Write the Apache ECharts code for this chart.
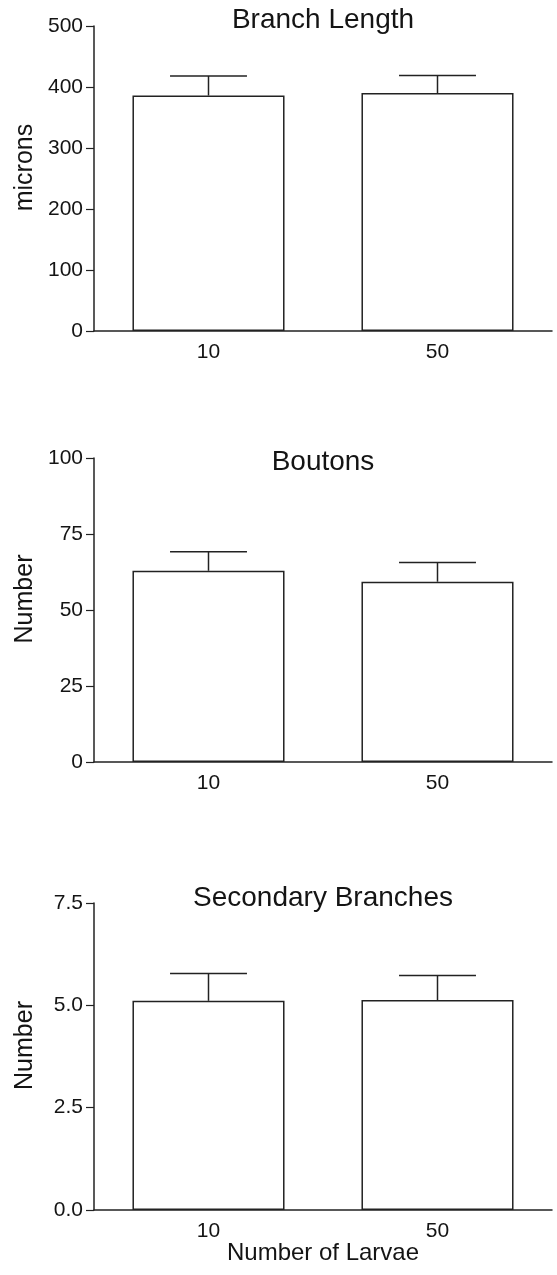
<!DOCTYPE html>
<html>
<head>
<meta charset="utf-8">
<title>Branch Length, Boutons and Secondary Branches</title>
<script src="https://cdn.jsdelivr.net/npm/echarts@6/dist/echarts.min.js"></script>
<style>
  html, body { margin: 0; padding: 0; background: #ffffff; }
  #chart { width: 557px; height: 1275px; }
</style>
</head>
<body>
<div id="chart"></div>
<script>
// Larval density groups
const categories = ['10', '50'];

// Branch length (microns): mean and SEM
const lengthMean = [386, 390];
const lengthSem = [32, 29];
const lengthTicks = [0, 100, 200, 300, 400, 500];

// Boutons (number): mean and SEM
const boutonMean = [62.9, 59.3];
const boutonSem = [6.3, 6.3];
const boutonTicks = [0, 25, 50, 75, 100];

// Secondary branches (number): mean and SEM
const secondaryMean = [5.11, 5.13];
const secondarySem = [0.67, 0.60];
const secondaryTicks = [0, 2.5, 5, 7.5];

const panelTitles = ['Branch Length', 'Boutons', 'Secondary Branches'];
const yNames = ['microns', 'Number', 'Number'];
const xName = 'Number of Larvae';

const FONT = '"Liberation Sans", Arial, Helvetica, sans-serif';
const INK = '#141414';
const LINE = '#222222';

const panels = [
  { mean: lengthMean, sem: lengthSem, ticks: lengthTicks, digits: 0, top: 26, height: 305, titleTop: 6 },
  { mean: boutonMean, sem: boutonSem, ticks: boutonTicks, digits: 0, top: 458, height: 304, titleTop: 448 },
  { mean: secondaryMean, sem: secondarySem, ticks: secondaryTicks, digits: 1, top: 903, height: 307, titleTop: 884 }
];

const grids = [], xAxes = [], yAxes = [], series = [], titles = [];

panels.forEach(function (p, i) {
  grids.push({ left: 94, right: 5, top: p.top, height: p.height, outerBoundsMode: 'none' });

  titles.push({
    text: panelTitles[i],
    left: 323,
    top: p.titleTop,
    textAlign: 'center',
    padding: 0,
    textStyle: { fontFamily: FONT, fontSize: 28, fontWeight: 'normal', color: INK }
  });

  xAxes.push({
    type: 'category',
    gridIndex: i,
    data: categories,
    boundaryGap: true,
    axisLine: { lineStyle: { color: LINE, width: 1.5 } },
    axisTick: { show: false },
    axisLabel: { fontFamily: FONT, fontSize: 21, color: INK, margin: 11 },
    name: i === panels.length - 1 ? xName : '',
    nameLocation: 'middle',
    nameGap: 31,
    nameMoveOverlap: false,
    nameTextStyle: { fontFamily: FONT, fontSize: 24, color: INK }
  });

  const step = p.ticks[1] - p.ticks[0];
  yAxes.push({
    type: 'value',
    gridIndex: i,
    min: p.ticks[0],
    max: p.ticks[p.ticks.length - 1],
    interval: step,
    splitLine: { show: false },
    axisLine: { show: true, lineStyle: { color: LINE, width: 1.5 } },
    axisTick: { show: true, length: 8, lineStyle: { color: LINE, width: 1.2 } },
    axisLabel: {
      fontFamily: FONT, fontSize: 21, color: INK, margin: 11,
      formatter: function (v) { return v.toFixed(p.digits); }
    },
    name: yNames[i],
    nameLocation: 'middle',
    nameGap: 56,
    nameMoveOverlap: false,
    nameTextStyle: { fontFamily: FONT, fontSize: 25, color: INK, padding: [0, 0, 0, 22] }
  });

  series.push({
    type: 'bar',
    xAxisIndex: i,
    yAxisIndex: i,
    data: p.mean,
    barWidth: '66.4%',
    itemStyle: { color: '#ffffff', borderColor: LINE, borderWidth: 1.5 },
    silent: true,
    animation: false
  });

  // SEM whiskers drawn upward from each bar top with a short cap
  series.push({
    type: 'custom',
    xAxisIndex: i,
    yAxisIndex: i,
    data: p.mean.map(function (m, k) { return [k, m, p.sem[k]]; }),
    encode: { x: 0, y: 1 },
    z: 5,
    silent: true,
    animation: false,
    renderItem: function (params, api) {
      const k = api.value(0);
      const m = api.value(1);
      const s = api.value(2);
      const base = api.coord([k, m]);
      const tip = api.coord([k, m + s]);
      const half = api.size([1, 0])[0] * 0.168;
      const style = { stroke: LINE, lineWidth: 1.5, fill: null };
      return {
        type: 'group',
        children: [
          { type: 'line', shape: { x1: base[0], y1: base[1], x2: tip[0], y2: tip[1] }, style: style },
          { type: 'line', shape: { x1: tip[0] - half, y1: tip[1], x2: tip[0] + half, y2: tip[1] }, style: style }
        ]
      };
    }
  });
});

const chart = echarts.init(document.getElementById('chart'), null, { renderer: 'canvas' });
chart.setOption({
  backgroundColor: '#ffffff',
  animation: false,
  title: titles,
  grid: grids,
  xAxis: xAxes,
  yAxis: yAxes,
  series: series
});
</script>
</body>
</html>
